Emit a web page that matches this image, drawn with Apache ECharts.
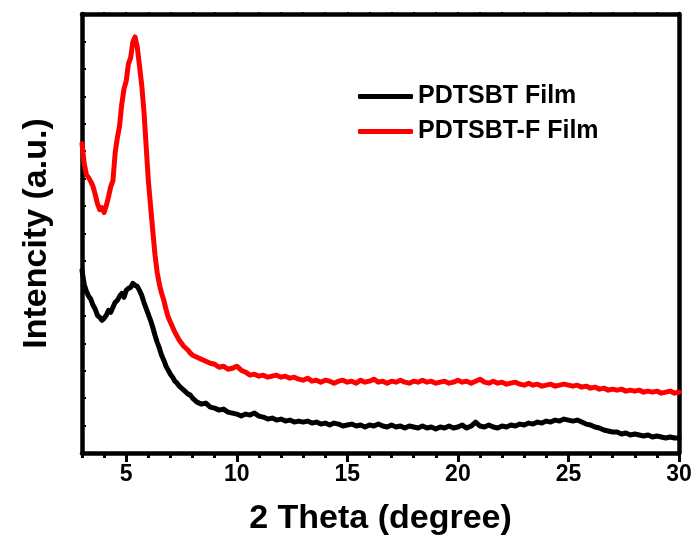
<!DOCTYPE html>
<html>
<head>
<meta charset="utf-8">
<script src="https://cdn.jsdelivr.net/npm/echarts@6/dist/echarts.min.js"></script>
<style>
  html, body { margin: 0; padding: 0; background: #fff; }
  #chart { width: 697px; height: 543px; }
</style>
</head>
<body>
<div id="chart"></div>
<script>
// XRD scan positions (2θ, degrees): fine steps across the low-angle peak, coarser afterwards
const theta = [
  3.0, 3.1, 3.2, 3.3, 3.4, 3.5, 3.6, 3.7, 3.8, 3.9,
  4.0, 4.1, 4.2, 4.3, 4.4, 4.5, 4.6, 4.7, 4.8, 4.9,
  5.0, 5.1, 5.2, 5.3, 5.4, 5.5, 5.6, 5.7, 5.8, 5.9,
  6.0, 6.1, 6.2, 6.3, 6.4, 6.5, 6.6, 6.7, 6.8, 6.9,
  7.0, 7.1, 7.2, 7.3, 7.4, 7.5, 7.6, 7.7, 7.8, 7.9,
  8.0, 8.2, 8.4, 8.6, 8.8, 9.0, 9.2, 9.4, 9.6, 9.8,
  10.0, 10.2, 10.4, 10.6, 10.8, 11.0, 11.2, 11.4, 11.6, 11.8,
  12.0, 12.2, 12.4, 12.6, 12.8, 13.0, 13.2, 13.4, 13.6, 13.8,
  14.0, 14.2, 14.4, 14.6, 14.8, 15.0, 15.2, 15.4, 15.6, 15.8,
  16.0, 16.2, 16.4, 16.6, 16.8, 17.0, 17.2, 17.4, 17.6, 17.8,
  18.0, 18.2, 18.4, 18.6, 18.8, 19.0, 19.2, 19.4, 19.6, 19.8,
  20.0, 20.2, 20.4, 20.6, 20.8, 21.0, 21.2, 21.4, 21.6, 21.8,
  22.0, 22.2, 22.4, 22.6, 22.8, 23.0, 23.2, 23.4, 23.6, 23.8,
  24.0, 24.2, 24.4, 24.6, 24.8, 25.0, 25.2, 25.4, 25.6, 25.8,
  26.0, 26.2, 26.4, 26.6, 26.8, 27.0, 27.2, 27.4, 27.6, 27.8,
  28.0, 28.2, 28.4, 28.6, 28.8, 29.0, 29.2, 29.4, 29.6, 29.8,
  30.0
];

// PDTSBT film intensity (a.u.)
const pdtsbt = [
  183, 169, 162, 157, 154, 148, 144, 138, 136, 133,
  135, 138, 143, 141, 146, 151, 153, 157, 160, 156,
  163, 165, 166, 170, 168, 167, 163, 158, 151, 145,
  139, 133, 126, 118, 111, 105, 98, 93, 87, 83,
  79, 76, 72, 70, 67, 65, 63, 61, 59, 58,
  55, 51, 49, 50, 46, 45, 43, 44, 41, 40,
  39, 37, 39, 38, 40, 37, 36, 34, 35, 33,
  34, 32, 33, 31, 32, 31, 32, 30, 31, 29,
  30, 28, 30, 29, 27, 28, 29, 27, 28, 26,
  28, 27, 29, 27, 26, 28, 26, 27, 25, 27,
  26, 25, 27, 25, 26, 24, 26, 25, 27, 25,
  26, 28, 25, 27, 31, 27, 26, 28, 26, 25,
  27, 26, 28, 27, 29, 28, 30, 29, 31, 30,
  32, 31, 33, 32, 34, 33, 32, 33, 31, 29,
  28, 26, 25, 23, 22, 21, 21, 19, 20, 18,
  19, 18, 17, 18, 16, 17, 16, 15, 16, 15,
  15
];

// PDTSBT-F film intensity (a.u.)
const pdtsbtF = [
  310, 290, 279, 276, 272, 267, 259, 250, 244, 246,
  241, 248, 257, 267, 273, 301, 316, 328, 350, 365,
  373, 390, 396, 412, 417, 407, 388, 369, 343, 308,
  273, 248, 223, 199, 181, 169, 160, 153, 144, 136,
  131, 126, 121, 117, 113, 110, 107, 105, 103, 100,
  98, 96, 94, 92, 90, 89, 86, 87, 84, 85,
  87, 83, 81, 78, 79, 77, 78, 76, 77, 78,
  76, 77, 75, 76, 74, 73, 75, 72, 73, 71,
  73, 72, 70, 72, 73, 71, 72, 70, 73, 71,
  72, 74, 71, 72, 70, 72, 71, 73, 71, 70,
  72, 71, 73, 71, 72, 70, 71, 72, 70, 71,
  73, 71, 72, 70, 72, 74, 71, 70, 72, 70,
  71, 69, 70, 71, 69, 68, 70, 68, 69, 67,
  68, 69, 67, 68, 69, 68, 67, 68, 66, 67,
  65, 66, 64, 65, 63, 64, 63, 64, 62, 63,
  62, 63, 61, 62, 61, 62, 60, 61, 62, 60,
  61
];

const seriesNames = ['PDTSBT Film', 'PDTSBT-F Film'];
// labelled 2θ ticks; minor ticks fall on every whole degree
const xMajorTicks = [5, 10, 15, 20, 25, 30];
const xRange = { min: 3, max: 30 };

const FONT = '"Liberation Sans", Arial, sans-serif';

const pairs = (ys) => theta.map((t, i) => [t, ys[i]]);

const chart = echarts.init(document.getElementById('chart'), null, { renderer: 'canvas' });

const axisLine = { show: true, onZero: false, lineStyle: { color: '#000', width: 4.5 } };

chart.setOption({
  animation: false,
  backgroundColor: '#fff',
  grid: { left: 82, right: 18, top: 14, bottom: 90 },
  legend: {
    data: seriesNames,
    orient: 'vertical',
    left: 353,
    top: 77,
    itemWidth: 55,
    itemHeight: 5,
    itemGap: 6,
    icon: 'roundRect',
    textStyle: { fontFamily: FONT, fontWeight: 'bold', fontSize: 25, color: '#000', lineHeight: 29 }
  },
  xAxis: [
    {
      // bottom frame edge: minor ticks every degree, labels on the major values
      type: 'value',
      position: 'bottom',
      min: xRange.min,
      max: xRange.max,
      interval: 1,
      axisLine: axisLine,
      axisTick: { show: true, inside: false, length: 5, lineStyle: { color: '#000', width: 3 } },
      splitLine: { show: false },
      axisLabel: {
        customValues: xMajorTicks,
        fontFamily: FONT, fontWeight: 'bold', fontSize: 23, color: '#000', margin: 10
      },
      name: '2 Theta (degree)',
      nameLocation: 'middle',
      nameGap: 49,
      nameTextStyle: { fontFamily: FONT, fontWeight: 'bold', fontSize: 34, color: '#000' }
    },
    {
      // top frame edge
      type: 'value',
      position: 'top',
      min: xRange.min,
      max: xRange.max,
      interval: 1,
      axisLine: axisLine,
      axisTick: { show: true, inside: false, length: 2, lineStyle: { color: '#000', width: 2 } },
      splitLine: { show: false },
      axisLabel: { show: false }
    },
    {
      // longer major ticks on the bottom edge
      type: 'value',
      position: 'bottom',
      offset: 0,
      min: xRange.min,
      max: xRange.max,
      axisLine: { show: false },
      axisTick: { show: true, inside: false, length: 9, customValues: xMajorTicks, lineStyle: { color: '#000', width: 3 } },
      splitLine: { show: false },
      axisLabel: { show: false }
    }
  ],
  yAxis: [
    {
      type: 'value',
      position: 'left',
      min: 0,
      max: 440,
      interval: 27.5,
      axisLine: axisLine,
      axisTick: { show: true, inside: true, length: 4, lineStyle: { color: '#000', width: 2 } },
      splitLine: { show: false },
      axisLabel: { show: false },
      name: 'Intencity (a.u.)',
      nameLocation: 'middle',
      nameGap: 28,
      nameTextStyle: { fontFamily: FONT, fontWeight: 'bold', fontSize: 34, color: '#000' }
    },
    {
      type: 'value',
      position: 'right',
      min: 0,
      max: 440,
      interval: 27.5,
      axisLine: axisLine,
      axisTick: { show: true, inside: false, length: 2, lineStyle: { color: '#000', width: 2 } },
      splitLine: { show: false },
      axisLabel: { show: false }
    }
  ],
  series: [
    {
      name: seriesNames[0],
      type: 'line',
      data: pairs(pdtsbt),
      showSymbol: false,
      symbol: 'none',
      itemStyle: { color: '#000' },
      lineStyle: { color: '#000', width: 5, join: 'round', cap: 'round' }
    },
    {
      name: seriesNames[1],
      type: 'line',
      data: pairs(pdtsbtF),
      showSymbol: false,
      symbol: 'none',
      itemStyle: { color: '#ff0000' },
      lineStyle: { color: '#ff0000', width: 5, join: 'round', cap: 'round' }
    }
  ]
});
</script>
</body>
</html>
